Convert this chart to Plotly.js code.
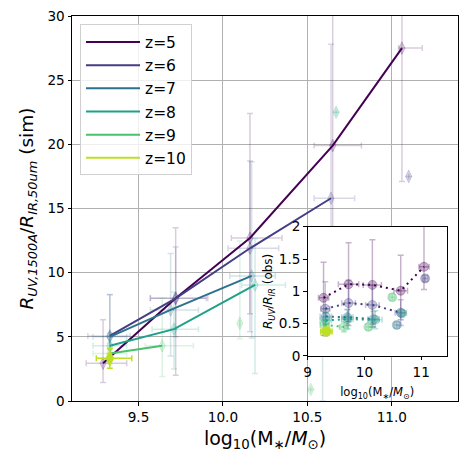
<!DOCTYPE html>
<html><head><meta charset="utf-8">
<script src="https://cdn.plot.ly/plotly-3.0.1.min.js"></script>
<style>html,body{margin:0;padding:0;background:#fff}#chart{width:468px;height:465px}</style>
</head><body><div id="chart"></div>
<script>
// ---------- DATA: simulation (main panel) ----------
const z5_logM  = [9.29, 9.72, 10.16, 10.65, 11.06];
const z5_ratio = [2.94, 8.0, 12.7, 19.9, 27.5];
const z5_xlo = [0.10, 0.15, 0.11, 0.11, 0.02];
const z5_xhi = [0.14, 0.19, 0.19, 0.17, 0.12];
const z5_ylo = [1.5, 6.0, 5.9, 15.0, 10.4];
const z5_yhi = [3.4, 5.5, 9.7, 12.0, 10.0];

const z6_logM  = [9.33, 9.72, 10.16, 10.64];
const z6_ratio = [5.07, 8.0, 11.9, 15.8];
const z6_xlo = [0.13, 0.15, 0.13, 0.10];
const z6_xhi = [0.12, 0.18, 0.17, 0.14];
const z6_ylo = [1.5, 3.0, 6.5, 9.0];
const z6_yhi = [3.2, 4.0, 6.8, 12.0];
const z6_extra_logM = [11.10];
const z6_extra_ratio = [17.5];

const z7_logM  = [9.33, 9.69, 10.17];
const z7_ratio = [5.0, 7.1, 9.75];
const z7_xlo = [0.10, 0.12, 0.13];
const z7_xhi = [0.10, 0.165, 0.14];
const z7_ylo = [1.0, 3.6, 4.85];
const z7_yhi = [3.3, 4.4, 8.9];
const z7_extra_logM = [10.59];
const z7_extra_ratio = [6.5];
const z7_extra_ylo = [6.5];
const z7_extra_yhi = [4.0];

const z8_logM  = [9.33, 9.71, 10.19];
const z8_ratio = [4.3, 5.6, 9.04];
const z8_xlo = [0.10, 0.13, 0.08];
const z8_xhi = [0.10, 0.145, 0.18];
const z8_ylo = [1.0, 3.1, 6.9];
const z8_yhi = [1.0, 2.9, 3.6];
const z8_extra_logM = [10.67];
const z8_extra_ratio = [22.5];

const z9_logM  = [9.33, 9.64];
const z9_ratio = [3.7, 4.31];
const z9_xlo = [0.10, 0.10];
const z9_xhi = [0.10, 0.185];
const z9_ylo = [0.8, 2.4];
const z9_yhi = [0.8, 3.7];
const z9_extra_logM = [10.10, 10.52];
const z9_extra_ratio = [6.06, 0.9];
const z9_extra_ylo = [1.2, 0.0];
const z9_extra_yhi = [6.4, 0.0];

const z10_logM  = [9.33];
const z10_ratio = [3.33];
const z10_xlo = [0.08];
const z10_xhi = [0.13];
const z10_ylo = [0.78];
const z10_yhi = [0.78];

// ---------- DATA: observations (inset) ----------
const o5_logM  = [9.28, 9.72, 10.14, 10.64, 11.05];
const o5_ratio = [0.90, 1.11, 1.10, 1.01, 1.38];
const o5_xerr = [0.09, 0.18, 0.16, 0.12, 0.09];
const o5_ylo = [0.58, 0.58, 0.65, 0.45, 0.35];
const o5_yhi = [0.55, 0.64, 0.70, 0.55, 0.75];

const o6_logM  = [9.31, 9.72, 10.14, 10.64];
const o6_ratio = [0.73, 0.82, 0.79, 0.67];
const o6_xerr = [0.08, 0.12, 0.12, 0.10];
const o6_yerr = [0.42, 0.35, 0.30, 0.20];
const o6_extra_logM = [11.07];
const o6_extra_ratio = [1.20];

const o7_logM  = [9.32, 9.70, 10.16];
const o7_ratio = [0.61, 0.60, 0.57];
const o7_xerr = [0.10, 0.10, 0.10];
const o7_yerr = [0.12, 0.12, 0.12];
const o7_extra_logM = [10.57];
const o7_extra_ratio = [0.48];

const o8_logM  = [9.32, 9.70, 10.19];
const o8_ratio = [0.55, 0.57, 0.56];
const o8_xerr = [0.10, 0.10, 0.12];
const o8_yerr = [0.12, 0.15, 0.14];
const o8_extra_logM = [10.66];
const o8_extra_ratio = [0.66];

const o9_logM  = [9.30, 9.64];
const o9_ratio = [0.48, 0.45];
const o9_xerr = [0.08, 0.08];
const o9_yerr = [0.08, 0.08];
const o9_extra_logM = [10.07, 10.49];
const o9_extra_ratio = [0.45, 0.91];

const o10_logM  = [9.33];
const o10_ratio = [0.38];
const o10_xerr = [0.10];
const o10_yerr = [0.06];

const redshiftLabels = ["z=5", "z=6", "z=7", "z=8", "z=9", "z=10"];
const xTickVals = [9.5, 10.0, 10.5, 11.0];
const xTickText = ["9.5", "10.0", "10.5", "11.0"];
const yTickVals = [0, 5, 10, 15, 20, 25, 30];
const insetXTickVals = [9, 10, 11];
const insetYTickVals = [0, 0.5, 1, 1.5, 2];
const insetYTickText = ["0", "0.5", "1", "1.5", "2"];

// ---------- STYLE ----------
const colors = ["#440154", "#433e85", "#2c718e", "#1fa088", "#4ac16d", "#bddf26"];
function rgba(hex, a) {
  const n = parseInt(hex.slice(1), 16);
  return `rgba(${(n >> 16) & 255},${(n >> 8) & 255},${n & 255},${a})`;
}
const zeros = a => a.map(() => 0);

function pts(x, y, xlo, xhi, ylo, yhi, col, alpha, size, symbol, axes) {
  const c = rgba(col, alpha);
  return {
    x: x, y: y, type: 'scatter', mode: 'markers', showlegend: false, hoverinfo: 'skip',
    xaxis: axes[0], yaxis: axes[1],
    marker: {symbol: symbol, size: size, color: c, line: {color: c, width: 1}},
    error_x: {type: 'data', symmetric: false, array: xhi, arrayminus: xlo, color: c, thickness: 1.5, width: 3},
    error_y: {type: 'data', symmetric: false, array: yhi, arrayminus: ylo, color: c, thickness: 1.5, width: 3}
  };
}
function line(x, y, col, name, dash, width, axes, legend) {
  return {
    x: x, y: y, type: 'scatter', mode: 'lines', name: name, showlegend: legend, hoverinfo: 'skip',
    xaxis: axes[0], yaxis: axes[1],
    line: {color: col, width: width, dash: dash}
  };
}

const M = ['x', 'y'], I = ['x2', 'y2'];
const A = 0.2, AI = 0.3;
const traces = [
  pts(z5_logM, z5_ratio, z5_xlo, z5_xhi, z5_ylo, z5_yhi, colors[0], A, 9, 'diamond-tall', M),
  pts(z6_logM, z6_ratio, z6_xlo, z6_xhi, z6_ylo, z6_yhi, colors[1], A, 9, 'diamond-tall', M),
  pts(z6_extra_logM, z6_extra_ratio, zeros(z6_extra_logM), zeros(z6_extra_logM), zeros(z6_extra_logM), zeros(z6_extra_logM), colors[1], A, 9, 'diamond-tall', M),
  pts(z7_logM, z7_ratio, z7_xlo, z7_xhi, z7_ylo, z7_yhi, colors[2], A, 9, 'diamond-tall', M),
  pts(z7_extra_logM, z7_extra_ratio, zeros(z7_extra_logM), zeros(z7_extra_logM), z7_extra_ylo, z7_extra_yhi, colors[2], A, 9, 'diamond-tall', M),
  pts(z8_logM, z8_ratio, z8_xlo, z8_xhi, z8_ylo, z8_yhi, colors[3], A, 9, 'diamond-tall', M),
  pts(z8_extra_logM, z8_extra_ratio, zeros(z8_extra_logM), zeros(z8_extra_logM), zeros(z8_extra_logM), zeros(z8_extra_logM), colors[3], A, 9, 'diamond-tall', M),
  pts(z9_logM, z9_ratio, z9_xlo, z9_xhi, z9_ylo, z9_yhi, colors[4], A, 9, 'diamond-tall', M),
  pts(z9_extra_logM, z9_extra_ratio, zeros(z9_extra_logM), zeros(z9_extra_logM), z9_extra_ylo, z9_extra_yhi, colors[4], A, 9, 'diamond-tall', M),
  line(z5_logM, z5_ratio, colors[0], redshiftLabels[0], 'solid', 2, M, true),
  line(z6_logM, z6_ratio, colors[1], redshiftLabels[1], 'solid', 2, M, true),
  line(z7_logM, z7_ratio, colors[2], redshiftLabels[2], 'solid', 2, M, true),
  line(z8_logM, z8_ratio, colors[3], redshiftLabels[3], 'solid', 2, M, true),
  line(z9_logM, z9_ratio, colors[4], redshiftLabels[4], 'solid', 2, M, true),
  line(z10_logM, z10_ratio, colors[5], redshiftLabels[5], 'solid', 2, M, true),
  pts(z10_logM, z10_ratio, z10_xlo, z10_xhi, z10_ylo, z10_yhi, colors[5], 1, 11, 'diamond-tall', M),
  // inset
  pts(o5_logM, o5_ratio, o5_xerr, o5_xerr, o5_ylo, o5_yhi, colors[0], AI, 9, 'circle', I),
  pts(o6_logM, o6_ratio, o6_xerr, o6_xerr, o6_yerr, o6_yerr, colors[1], AI, 9, 'circle', I),
  pts(o6_extra_logM, o6_extra_ratio, [0.05], [0.05], [0.05], [0.05], colors[1], AI, 9, 'circle', I),
  pts(o7_logM, o7_ratio, o7_xerr, o7_xerr, o7_yerr, o7_yerr, colors[2], AI, 9, 'circle', I),
  pts(o7_extra_logM, o7_extra_ratio, [0.05], [0.05], [0.05], [0.05], colors[2], AI, 9, 'circle', I),
  pts(o8_logM, o8_ratio, o8_xerr, o8_xerr, o8_yerr, o8_yerr, colors[3], AI, 9, 'circle', I),
  pts(o8_extra_logM, o8_extra_ratio, [0.05], [0.05], [0.05], [0.05], colors[3], AI, 9, 'circle', I),
  pts(o9_logM, o9_ratio, o9_xerr, o9_xerr, o9_yerr, o9_yerr, colors[4], AI, 9, 'circle', I),
  pts(o9_extra_logM, o9_extra_ratio, [0.05, 0.05], [0.05, 0.05], [0.05, 0.05], [0.05, 0.05], colors[4], AI, 9, 'circle', I),
  line(o5_logM, o5_ratio, colors[0], 'o5', '2px,4px', 2, I, false),
  line(o6_logM, o6_ratio, colors[1], 'o6', '2px,4px', 2, I, false),
  line(o7_logM, o7_ratio, colors[2], 'o7', '2px,4px', 2, I, false),
  line(o8_logM, o8_ratio, colors[3], 'o8', '2px,4px', 2, I, false),
  line(o9_logM, o9_ratio, colors[4], 'o9', '2px,4px', 2, I, false),
  pts(o10_logM, o10_ratio, o10_xerr, o10_xerr, o10_yerr, o10_yerr, colors[5], 1, 9.5, 'circle', I)
];

const FONT = 'DejaVu Sans, Verdana, sans-serif';
const axBase = {
  showline: true, linecolor: '#000', linewidth: 1, mirror: true,
  ticks: 'outside', ticklen: 3.5, tickwidth: 1, tickcolor: '#000',
  zeroline: false
};

const layout = {
  width: 468, height: 465,
  margin: {l: 72, r: 10, t: 16, b: 64},
  paper_bgcolor: '#fff', plot_bgcolor: '#fff',
  font: {family: FONT, color: '#000'},
  showlegend: true,
  legend: {
    x: 0.0207, y: 0.978, xanchor: 'left', yanchor: 'top',
    font: {size: 15.5, family: FONT},
    bgcolor: 'rgba(255,255,255,0.8)', bordercolor: '#d0d0d0', borderwidth: 1,
    itemwidth: 54, tracegroupgap: 0
  },
  xaxis: Object.assign({}, axBase, {
    domain: [0, 1], range: [9.106, 11.392], anchor: 'y',
    tickvals: xTickVals, ticktext: xTickText,
    showgrid: true, gridcolor: '#b0b0b0', gridwidth: 1,
    tickfont: {size: 13.6},
    title: {text: 'log<sub>10</sub>(M<sub>∗</sub>/<i>M</i><sub>⊙</sub>)', font: {size: 19}, standoff: 7}
  }),
  yaxis: Object.assign({}, axBase, {
    domain: [0, 1], range: [0, 30], anchor: 'x',
    tickvals: yTickVals,
    showgrid: true, gridcolor: '#b0b0b0', gridwidth: 1,
    tickfont: {size: 13.6},
    title: {text: '<i>R</i><sub><i>UV,1500A</i></sub>/<i>R</i><sub><i>IR,50um</i></sub> (sim)', font: {size: 18.5}, standoff: 8}
  }),
  xaxis2: Object.assign({}, axBase, {
    domain: [0.6106, 0.9707], range: [9, 11.45], anchor: 'y2',
    tickvals: insetXTickVals, showgrid: false,
    tickfont: {size: 13.6},
    title: {text: 'log<sub>10</sub>(M<sub>∗</sub>/<i>M</i><sub>⊙</sub>)', font: {size: 11.5}, standoff: 9}
  }),
  yaxis2: Object.assign({}, axBase, {
    domain: [0.1169, 0.4527], range: [0, 2], anchor: 'x2',
    tickvals: insetYTickVals, ticktext: insetYTickText, showgrid: false,
    tickfont: {size: 13.6},
    title: {text: '<i>R</i><sub><i>UV</i></sub>/<i>R</i><sub><i>IR</i></sub> (obs)', font: {size: 12}, standoff: 3}
  })
};

Plotly.newPlot('chart', traces, layout, {staticPlot: true, displayModeBar: false});
</script>
</body></html>
